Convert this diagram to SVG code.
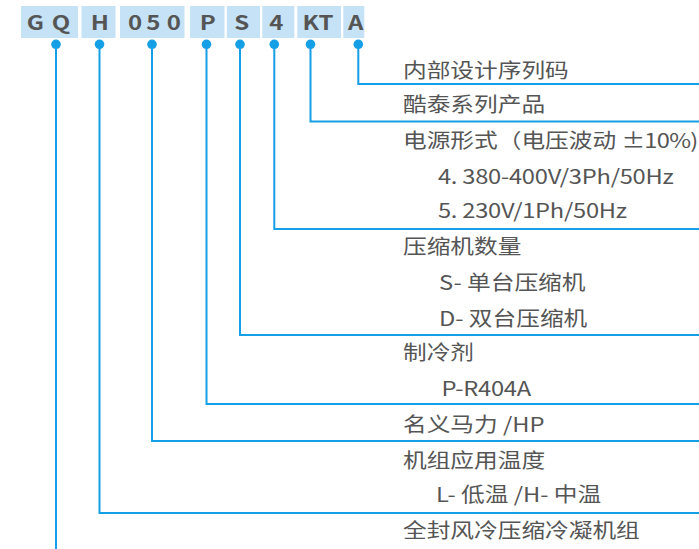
<svg xmlns="http://www.w3.org/2000/svg" width="699" height="549" viewBox="0 0 699 549">
<style>
.box{fill:#c6e2f6}
.code{font-family:"Noto Sans CJK SC","Noto Sans",sans-serif;font-weight:bold;font-size:20px;fill:#555555;text-anchor:middle}
.lbl{font-family:"Noto Sans CJK SC","Noto Sans",sans-serif;font-size:20px;fill:#555555}
.lat{letter-spacing:-0.2px}
.wire{fill:none;stroke:#159fe6;stroke-width:2}
.dot{fill:#159fe6}
</style>
<rect width="699" height="549" fill="#ffffff"/>
<g id="codes">
  <g id="code-GQ"><rect class="box" x="21" y="6" width="57" height="32"/><g transform="scale(1.2,1)"><text class="code" x="29.4" y="30.5">G</text><text class="code" x="50.8" y="30.5">Q</text></g></g>
  <g id="code-H"><rect class="box" x="81.5" y="6" width="34" height="32"/><g transform="scale(1.2,1)"><text class="code" x="83.3" y="30.5">H</text></g></g>
  <g id="code-050"><rect class="box" x="120" y="6" width="64.5" height="32"/><g transform="scale(1.2,1)"><text class="code" x="112.5" y="30.5">0</text><text class="code" x="127.8" y="30.5">5</text><text class="code" x="144.8" y="30.5">0</text></g></g>
  <g id="code-P"><rect class="box" x="190" y="6" width="34.5" height="32"/><g transform="scale(1.2,1)"><text class="code" x="173.2" y="30.5">P</text></g></g>
  <g id="code-S"><rect class="box" x="226.8" y="6" width="33.2" height="32"/><g transform="scale(1.2,1)"><text class="code" x="201.4" y="30.5">S</text></g></g>
  <g id="code-4"><rect class="box" x="262.3" y="6" width="32" height="32"/><g transform="scale(1.2,1)"><text class="code" x="230.2" y="30.5">4</text></g></g>
  <g id="code-KT"><rect class="box" x="297.3" y="6" width="43.7" height="32"/><g transform="scale(1.2,1)"><text class="code" x="265" y="30.5">KT</text></g></g>
  <g id="code-A"><rect class="box" x="343.3" y="6" width="21" height="32"/><g transform="scale(1.2,1)"><text class="code" x="296.5" y="30.5">A</text></g></g>
</g>
<g id="connectors">
  <circle class="dot" cx="56" cy="44.3" r="4.8"/><path class="wire" d="M56 44V549"/>
  <circle class="dot" cx="99.5" cy="44.3" r="4.8"/><path class="wire" d="M99.5 44V513H699"/>
  <circle class="dot" cx="152" cy="44.3" r="4.8"/><path class="wire" d="M152 44V441H699"/>
  <circle class="dot" cx="206.5" cy="44.3" r="4.8"/><path class="wire" d="M206.5 44V404H699"/>
  <circle class="dot" cx="240" cy="44.3" r="4.8"/><path class="wire" d="M240 44V335H699"/>
  <circle class="dot" cx="274.3" cy="44.3" r="4.8"/><path class="wire" d="M274.3 44V229H699"/>
  <circle class="dot" cx="310.5" cy="44.3" r="4.8"/><path class="wire" d="M310.5 44V121.5H699"/>
  <circle class="dot" cx="358.3" cy="44.3" r="4.8"/><path class="wire" d="M358.3 44V84H699"/>
</g>
<g transform="scale(1.185,1)">
  <g id="label-A"><text class="lbl" x="340.1" y="78">内部设计序列码</text></g>
  <g id="label-KT"><text class="lbl" x="340.1" y="112.5">酷泰系列产品</text></g>
  <g id="label-4"><text class="lbl" x="340.1" y="148">电源形式（电压波动 <tspan letter-spacing="-0.6">±10%)</tspan></text><text class="lbl lat" x="369.6" y="184">4. 380-400V/3Ph/50Hz</text><text class="lbl lat" x="369.6" y="218.3">5. 230V/1Ph/50Hz</text></g>
  <g id="label-S"><text class="lbl" x="340.1" y="254.5">压缩机数量</text><text class="lbl" x="370.5" y="290.5">S- 单台压缩机</text><text class="lbl" x="370.5" y="326">D- 双台压缩机</text></g>
  <g id="label-P"><text class="lbl" x="340.1" y="360.5">制冷剂</text><text class="lbl lat" x="372.5" y="396.5">P-R404A</text></g>
  <g id="label-050"><text class="lbl" x="340.1" y="432">名义马力 /HP</text></g>
  <g id="label-H"><text class="lbl" x="340.1" y="468">机组应用温度</text><text class="lbl" x="368" y="502">L- 低温 /H- 中温</text></g>
  <g id="label-GQ"><text class="lbl" x="340.1" y="538">全封风冷压缩冷凝机组</text></g>
</g>
</svg>
